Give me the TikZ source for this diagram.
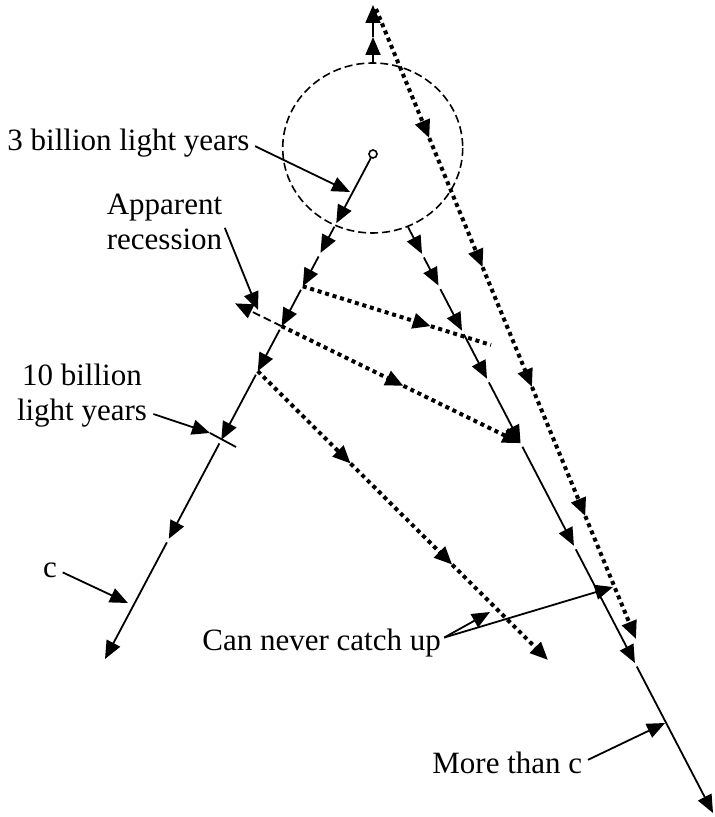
\documentclass[tikz,border=0pt]{standalone}
\usepackage{fontspec}
\setmainfont{Liberation Serif}
\usetikzlibrary{arrows.meta,calc}
\tikzset{
  ray/.style={-{Triangle[length=9pt,width=7.5pt]},line width=0.9pt},
  seg/.style={ray,shorten <=2pt},
  light/.style={-{Triangle[length=9pt,width=7.5pt]},line width=2pt,dash pattern=on 2pt off 1.9pt},
  lighttail/.style={line width=2pt,dash pattern=on 2pt off 1.9pt},
  recede/.style={ray,dash pattern=on 4pt off 2pt},
  horizon/.style={line width=0.8pt,dash pattern=on 4pt off 2pt},
  dot/.style={circle,draw,line width=0.8pt,inner sep=0pt,minimum size=4pt,fill=white},
  lbl/.style={font=\fontsize{15.5}{17.5}\selectfont,inner sep=0pt},
  leader/.style={ray,shorten <=3pt}
}
\begin{document}
\begin{tikzpicture}[x=0.5pt,y=-0.5pt]
  \useasboundingbox (0,0) rectangle (714,817);

  \node[dot] (src) at (373,154) {};
  \coordinate (lend) at (105,659);
  \coordinate (rbeg) at (408,227);
  \coordinate (rend) at (713,813);
  \coordinate (ctop) at (373,63);
  \coordinate (vmid) at (373,37);
  \coordinate (top)  at (373,5);
  \coordinate (dtop) at (376,9);
  \coordinate (dend) at (636,639);

  \draw[horizon] (372.7,148) ellipse [x radius=90, y radius=85];

  % left world line
  \coordinate (l1) at ($(src)!0.137!(lend)$);
  \coordinate (l2) at ($(src)!0.196!(lend)$);
  \coordinate (l3) at ($(src)!0.262!(lend)$);
  \coordinate (l4) at ($(src)!0.341!(lend)$);
  \coordinate (l5) at ($(src)!0.430!(lend)$);
  \coordinate (l6) at ($(src)!0.566!(lend)$);
  \coordinate (l7) at ($(src)!0.762!(lend)$);
  \draw[ray] (src) -- (l1);
  \draw[seg] (l1) -- (l2);
  \draw[seg] (l2) -- (l3);
  \draw[seg] (l3) -- (l4);
  \draw[seg] (l4) -- (l5);
  \draw[seg] (l5) -- (l6);
  \draw[seg] (l6) -- (l7);
  \draw[seg] (l7) -- (lend);

  % right world line
  \coordinate (r1) at ($(rbeg)!0.046!(rend)$);
  \coordinate (r2) at ($(rbeg)!0.100!(rend)$);
  \coordinate (r3) at ($(rbeg)!0.177!(rend)$);
  \coordinate (r4) at ($(rbeg)!0.259!(rend)$);
  \coordinate (r5) at ($(rbeg)!0.369!(rend)$);
  \coordinate (r6) at ($(rbeg)!0.544!(rend)$);
  \coordinate (r7) at ($(rbeg)!0.744!(rend)$);
  \draw[ray] (rbeg) -- (r1);
  \draw[seg] (r1) -- (r2);
  \draw[seg] (r2) -- (r3);
  \draw[seg] (r3) -- (r4);
  \draw[seg] (r4) -- (r5);
  \draw[seg] (r5) -- (r6);
  \draw[seg] (r6) -- (r7);
  \draw[seg] (r7) -- (rend);

  \draw[ray] (ctop) -- (vmid);
  \draw[ray] (vmid) -- (top);

  % light paths
  \coordinate (d1e) at (491,345);
  \coordinate (d1m) at ($(l3)!0.68!(d1e)$);
  \draw[light] (l3) -- (d1m);
  \draw[lighttail] (d1m) -- (d1e);

  \coordinate (d2m) at ($(l4)!0.51!(r5)$);
  \coordinate (d2b) at ($(l4)!-0.195!(r5)$);
  \draw[light] (l4) -- (d2m);
  \draw[light] (d2m) -- (r5);
  \draw[recede] (l4) -- (d2b);

  \coordinate (d3e) at (548,660);
  \coordinate (d3a) at ($(l5)!0.32!(d3e)$);
  \coordinate (d3b) at ($(l5)!0.67!(d3e)$);
  \draw[light] (l5) -- (d3a);
  \draw[light] (d3a) -- (d3b);
  \draw[light] (d3b) -- (d3e);

  \coordinate (d4a) at ($(dtop)!0.205!(dend)$);
  \coordinate (d4b) at ($(dtop)!0.41!(dend)$);
  \coordinate (d4c) at ($(dtop)!0.60!(dend)$);
  \coordinate (d4d) at ($(dtop)!0.805!(dend)$);
  \draw[light] (dtop) -- (d4a);
  \draw[light] (d4a) -- (d4b);
  \draw[light] (d4b) -- (d4c);
  \draw[light] (d4c) -- (d4d);
  \draw[light] (d4d) -- (dend);

  % labels
  \coordinate (tk1) at (210,433);
  \coordinate (tk2) at (236,447);
  \draw[line width=0.9pt] (tk1) -- (tk2);

  \node[lbl,anchor=base west] (lbl3) at (7,151) {3 billion light years};
  \node[lbl,align=center,anchor=north] (lblrec) at (164.5,194) {Apparent\\recession};
  \node[lbl,align=center,anchor=north] (lbl10) at (82,364) {10 billion\\light years};
  \node[lbl,anchor=base] (lblc) at (50,577) {c};
  \node[lbl,anchor=base west] (lblcatch) at (202,650) {Can never catch up};
  \node[lbl,anchor=base west] (lblmore) at (432,773) {More than c};

  \coordinate (t3) at (350,192);
  \coordinate (trec) at (258,310);
  \coordinate (t10a) at ($(lbl10.south east)+(6,-14)$);
  \coordinate (tc) at (128,603);
  \coordinate (cj) at ($(lblcatch.east)+(3,-5)$);
  \coordinate (tcatch1) at (490,612);
  \coordinate (tcatch2) at (613,587);
  \coordinate (tmore) at (665,723);

  \draw[leader] (lbl3.east) -- (t3);
  \draw[leader] (lblrec.east) -- (trec);
  \draw[ray] (t10a) -- (tk1);
  \draw[leader] (lblc.east) -- (tc);
  \draw[ray] (cj) -- (tcatch1);
  \draw[ray] (cj) -- (tcatch2);
  \draw[leader] (lblmore.east) -- (tmore);
\end{tikzpicture}
\end{document}
